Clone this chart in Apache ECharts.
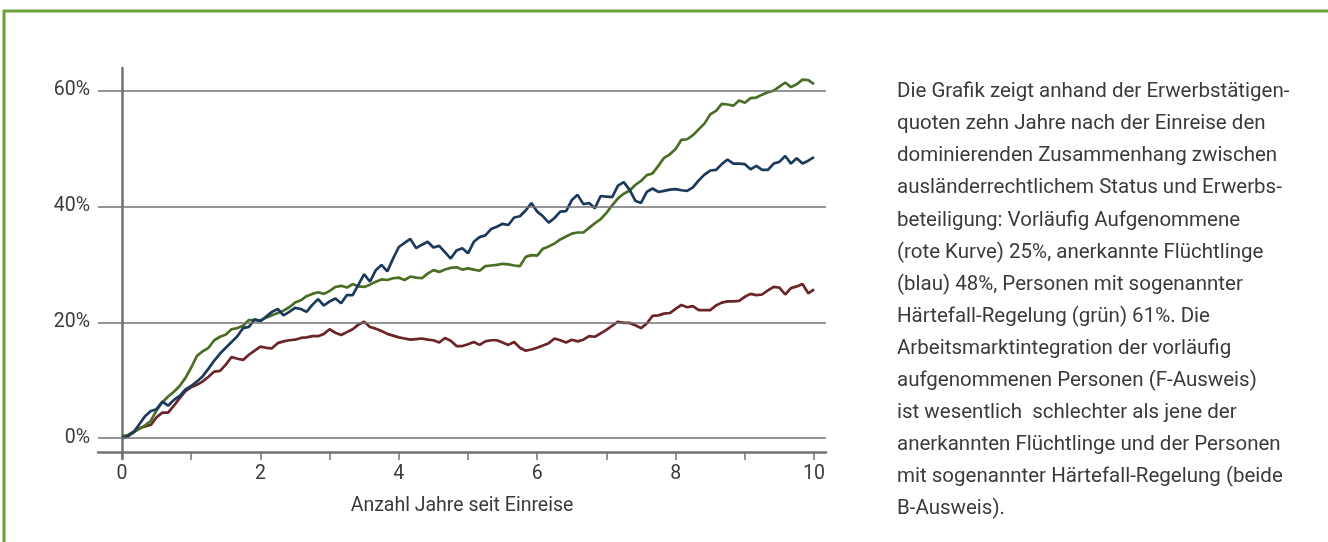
<!DOCTYPE html>
<html>
<head>
<meta charset="utf-8">
<script src="https://cdn.jsdelivr.net/npm/echarts@6/dist/echarts.min.js"></script>
<style>
html,body{margin:0;padding:0;background:#fff;}
#chart{width:1328px;height:542px;}
</style>
</head>
<body>
<div id="chart"></div>
<script>
// Monthly values (month 0..120 after arrival), employment rate in %
const gruen = [
 0.2,0.5,1.0,1.6,2.2,3.0,4.8,6.2,7.2,8.0,9.0,10.4,
 12.2,14.2,15.0,15.6,16.9,17.5,17.9,18.8,19.0,19.4,20.4,20.4,
 20.3,20.8,21.2,21.6,22.0,22.6,23.4,23.8,24.5,24.9,25.2,24.9,
 25.4,26.1,26.3,26.0,26.6,26.2,26.1,26.5,27.0,27.4,27.3,27.6,
 27.7,27.3,27.9,27.7,27.6,28.4,29.0,28.7,29.1,29.4,29.5,29.1,
 29.3,29.1,28.9,29.7,29.8,29.9,30.1,30.0,29.8,29.7,31.3,31.6,
 31.5,32.7,33.1,33.6,34.3,34.8,35.3,35.5,35.5,36.3,37.1,37.8,
 38.9,40.2,41.4,42.2,42.7,43.7,44.4,45.4,45.7,47.0,48.4,49.0,
 49.9,51.5,51.6,52.3,53.3,54.3,55.9,56.5,57.7,57.6,57.4,58.3,
 57.9,58.7,58.8,59.3,59.7,60.0,60.7,61.4,60.6,61.1,61.9,61.8,
 61.1
];
const blau = [
 0.0,0.3,1.0,2.4,3.8,4.7,5.0,6.3,5.6,6.6,7.3,8.4,
 9.0,9.8,10.7,12.0,13.4,14.6,15.6,16.6,17.6,19.0,19.2,20.5,
 20.2,21.0,21.8,22.3,21.2,21.8,22.5,22.3,21.8,23.0,24.0,22.9,
 23.6,24.1,23.3,24.7,24.7,26.5,28.3,27.0,29.0,29.9,28.8,31.0,
 33.0,33.7,34.4,32.8,33.4,33.9,32.9,33.2,32.1,31.0,32.4,32.8,
 31.9,33.9,34.7,35.0,36.1,36.5,37.0,36.8,38.1,38.3,39.3,40.6,
 39.1,38.3,37.2,38.0,39.1,39.2,41.1,42.0,40.4,40.6,39.7,41.8,
 41.7,41.6,43.6,44.2,42.9,41.0,40.6,42.5,43.1,42.5,42.7,42.9,
 43.0,42.8,42.7,43.3,44.5,45.5,46.2,46.3,47.3,48.1,47.4,47.4,
 47.3,46.4,47.0,46.3,46.3,47.4,47.7,48.7,47.4,48.3,47.4,47.9,
 48.5
];
const rot = [
 0.3,0.5,1.1,1.7,2.0,2.3,3.6,4.4,4.4,5.6,6.9,8.1,
 8.8,9.2,9.8,10.6,11.5,11.6,12.7,14.0,13.7,13.5,14.4,15.1,
 15.8,15.6,15.5,16.4,16.7,16.9,17.0,17.3,17.4,17.6,17.6,18.0,
 18.8,18.2,17.8,18.3,18.8,19.6,20.1,19.2,18.9,18.5,18.0,17.7,
 17.4,17.2,17.0,17.1,17.2,17.0,16.9,16.5,17.3,16.8,15.9,15.9,
 16.2,16.6,16.1,16.7,16.9,16.9,16.5,16.1,16.6,15.6,15.1,15.3,
 15.6,16.0,16.4,17.2,16.9,16.5,17.0,16.7,17.0,17.6,17.5,18.1,
 18.7,19.4,20.1,19.9,19.9,19.5,19.0,19.8,21.1,21.2,21.5,21.6,
 22.3,23.0,22.6,22.8,22.1,22.1,22.1,22.9,23.4,23.6,23.6,23.7,
 24.4,24.9,24.7,24.8,25.5,26.1,26.0,24.8,25.9,26.2,26.6,25.0,
 25.7
];
const yTicks = [0, 20, 40, 60];
const xTicks = [0,1,2,3,4,5,6,7,8,9,10];
const xLabels = [0,2,4,6,8,10];
const xName = 'Anzahl Jahre seit Einreise';
const textLines = [
 'Die Grafik zeigt anhand der Erwerbstätigen-',
 'quoten zehn Jahre nach der Einreise den',
 'dominierenden Zusammenhang zwischen',
 'ausländerrechtlichem Status und Erwerbs-',
 'beteiligung: Vorläufig Aufgenommene',
 '(rote Kurve) 25%, anerkannte Flüchtlinge',
 '(blau) 48%, Personen mit sogenannter',
 'Härtefall-Regelung (grün) 61%. Die',
 'Arbeitsmarktintegration der vorläufig',
 'aufgenommenen Personen (F-Ausweis)',
 'ist wesentlich  schlechter als jene der',
 'anerkannten Flüchtlinge und der Personen',
 'mit sogenannter Härtefall-Regelung (beide',
 'B-Ausweis).'
];

const toPts = arr => arr.map((v, i) => [i / 12, v]);
const FONT = 'Roboto';
const TXT = '#3a3a3a';
const AX = '#727272';

const chart = echarts.init(document.getElementById('chart'), null, {renderer: 'canvas'});
chart.setOption({
  animation: false,
  backgroundColor: '#ffffff',
  textStyle: {fontFamily: FONT},
  grid: {left: 98, right: 502, top: 68, bottom: 83, containLabel: false},
  xAxis: {
    type: 'value', min: -0.347, max: 10.173, offset: -7,
    name: xName, nameLocation: 'middle', nameGap: 44,
    nameTextStyle: {fontFamily: FONT, fontSize: 19.5, color: TXT},
    axisLine: {show: true, onZero: false, lineStyle: {color: AX, width: 2.5}},
    axisTick: {show: true, customValues: xTicks, inside: false, length: 8, lineStyle: {color: AX, width: 1.5}},
    axisLabel: {customValues: xLabels, margin: 12, fontFamily: FONT, fontSize: 19.5, color: TXT},
    splitLine: {show: false}
  },
  yAxis: {
    type: 'value', min: -3.6, max: 63.9, offset: -11,
    axisLine: {show: true, lineStyle: {color: AX, width: 2.5}},
    axisTick: {show: false},
    axisLabel: {customValues: yTicks, formatter: '{value}%', margin: 19, fontFamily: FONT, fontSize: 19.5, color: TXT},
    splitLine: {show: false}
  },
  series: [
    {
      type: 'line', data: [], z: 1, silent: true,
      markLine: {
        silent: true, symbol: 'none', animation: false,
        label: {show: false},
        lineStyle: {color: AX, width: 1.5, type: 'solid'},
        data: yTicks.map(v => ({yAxis: v}))
      }
    },
    {name: 'rot', type: 'line', data: toPts(rot), showSymbol: false, symbol: 'none', z: 3,
     lineStyle: {color: '#6b2528', width: 2.7}},
    {name: 'grün', type: 'line', data: toPts(gruen), showSymbol: false, symbol: 'none', z: 3,
     lineStyle: {color: '#4a6e24', width: 2.7}},
    {name: 'blau', type: 'line', data: toPts(blau), showSymbol: false, symbol: 'none', z: 4,
     lineStyle: {color: '#1c3a5c', width: 2.7}}
  ],
  graphic: [
    {type: 'line', shape: {x1: 3, y1: 11, x2: 1328, y2: 11}, style: {stroke: '#6da23a', lineWidth: 3}, silent: true},
    {type: 'line', shape: {x1: 4, y1: 10, x2: 4, y2: 542}, style: {stroke: '#6da23a', lineWidth: 3}, silent: true},
    {type: 'text', left: 897, top: 76, silent: true,
     style: {text: textLines.join('\n'), fontFamily: FONT, fontSize: 20.5, lineHeight: 32.1, fill: TXT}}
  ]
});
</script>
</body>
</html>
